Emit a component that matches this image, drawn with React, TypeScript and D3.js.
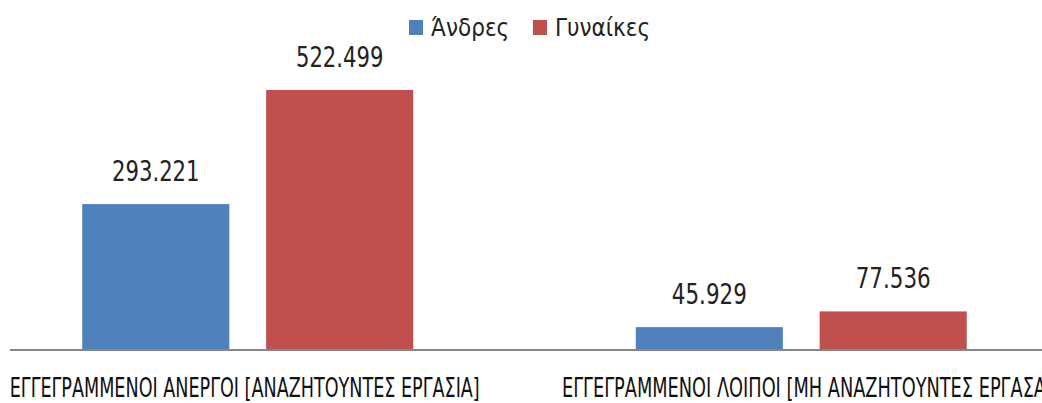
import * as d3 from 'd3';
import { useEffect, useRef } from 'react';

const categories = [
  'ΕΓΓΕΓΡΑΜΜΕΝΟΙ ΑΝΕΡΓΟΙ [ΑΝΑΖΗΤΟΥΝΤΕΣ ΕΡΓΑΣΙΑ]',
  'ΕΓΓΕΓΡΑΜΜΕΝΟΙ ΛΟΙΠΟΙ [ΜΗ ΑΝΑΖΗΤΟΥΝΤΕΣ ΕΡΓΑΣΑ',
];
const seriesNames = ['Άνδρες', 'Γυναίκες'];
const men = [293221, 45929];
const women = [522499, 77536];
const colors = ['#4F81BD', '#C0504D'];

const W = 1042;
const H = 403;

export default function App() {
  const svgRef = useRef<SVGSVGElement>(null);

  useEffect(() => {
    if (!svgRef.current) return;
    const svg = d3.select(svgRef.current);
    svg.selectAll('*').remove();

    const baseline = 350;
    const font = '"Liberation Sans Narrow", "DejaVu Sans Condensed", "Liberation Sans", sans-serif';

    // plot area is wider than the picture (chart was cropped on both sides)
    const x0 = d3.scaleBand<number>().domain([0, 1]).range([-29, 1078]).paddingInner(0.402).paddingOuter(0.201);
    const x1 = d3.scaleBand<number>().domain([0, 1]).range([0, x0.bandwidth()]).paddingInner(0.2);
    const y = d3.scaleLinear().domain([0, 600000]).range([baseline, 51.4]);

    const series = [men, women];
    const rows = categories.flatMap((_, ci) => series.map((s, si) => ({ ci, si, v: s[ci] })));
    const fmt = (v: number) => d3.format(',')(v).replace(/,/g, '.');

    const g = svg.append('g');

    g.selectAll('rect.bar')
      .data(rows)
      .join('rect')
      .attr('class', 'bar')
      .attr('x', (d) => x0(d.ci)! + x1(d.si)!)
      .attr('y', (d) => y(d.v))
      .attr('width', x1.bandwidth())
      .attr('height', (d) => baseline - y(d.v))
      .attr('fill', (d) => colors[d.si]);

    // value labels
    g.selectAll('text.val')
      .data(rows)
      .join('text')
      .attr('class', 'val')
      .attr('x', (d) => x0(d.ci)! + x1(d.si)! + x1.bandwidth() / 2)
      .attr('y', (d) => y(d.v) - 23)
      .attr('text-anchor', 'middle')
      .attr('font-family', font)
      .attr('font-size', 28)
      .attr('fill', '#222')
      .attr('textLength', (d) => fmt(d.v).length * 12.5)
      .attr('lengthAdjust', 'spacingAndGlyphs')
      .text((d) => fmt(d.v));

    // x axis line
    g.append('line')
      .attr('x1', 10)
      .attr('x2', W)
      .attr('y1', baseline)
      .attr('y2', baseline)
      .attr('stroke', '#868686')
      .attr('stroke-width', 2);

    // category labels
    g.append('text')
      .attr('x', x0(0)! + x0.bandwidth() / 2 - 3)
      .attr('y', 397)
      .attr('text-anchor', 'middle')
      .attr('font-family', font)
      .attr('font-size', 27)
      .attr('fill', '#111')
      .attr('textLength', 470)
      .attr('lengthAdjust', 'spacingAndGlyphs')
      .text(categories[0]);

    g.append('text')
      .attr('x', 562)
      .attr('y', 397)
      .attr('font-family', font)
      .attr('font-size', 27)
      .attr('fill', '#111')
      .attr('textLength', 484)
      .attr('lengthAdjust', 'spacingAndGlyphs')
      .text(categories[1]);

    // legend
    const legendX = [409, 533];
    const leg = g
      .selectAll('g.leg')
      .data(seriesNames)
      .join('g')
      .attr('class', 'leg')
      .attr('transform', (_, i) => `translate(${legendX[i]},20)`);
    leg.append('rect').attr('width', 14).attr('height', 15).attr('fill', (_, i) => colors[i]);
    leg
      .append('text')
      .attr('x', 22)
      .attr('y', 16)
      .attr('font-family', font)
      .attr('font-size', 24)
      .attr('fill', '#222')
      .text((d) => d);
  }, []);

  return (
    <svg
      ref={svgRef}
      width={W}
      height={H}
      style={{ position: 'absolute', left: 0, top: 0, background: '#fff' }}
    />
  );
}
